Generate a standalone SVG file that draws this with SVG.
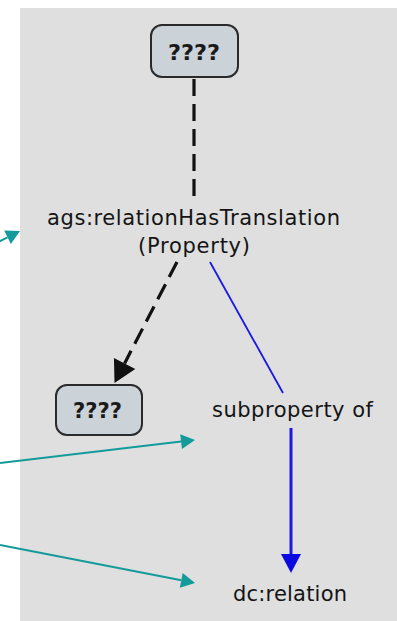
<svg xmlns="http://www.w3.org/2000/svg" width="397" height="621" viewBox="0 0 397 621">
<style>
.lbl{font-family:"DejaVu Sans","Liberation Sans",sans-serif;font-size:21px;fill:#141414;}
.q{font-family:"DejaVu Sans","Liberation Sans",sans-serif;font-size:21px;font-weight:bold;fill:#1a1a1a;}
.box{fill:#cbd3d8;stroke:#2a2a2a;stroke-width:2;}
.dash{fill:none;stroke:#111;stroke-width:3.2;stroke-dasharray:17 8;}
.blue{fill:none;stroke:#1a1ae0;}
.teal{fill:none;stroke:#149a9a;stroke-width:2;}
</style>
<defs>
<marker id="mBlack" markerUnits="userSpaceOnUse" markerWidth="24" markerHeight="26" refX="0" refY="12" orient="auto" overflow="visible">
<path d="M0,0 L22,12 L0,24 z" fill="#111"/>
</marker>
<marker id="mBlue" markerUnits="userSpaceOnUse" markerWidth="22" markerHeight="22" refX="0" refY="10" orient="auto" overflow="visible">
<path d="M0,0 L19,10 L0,20 z" fill="#0a0ae0"/>
</marker>
<marker id="mTeal" markerUnits="userSpaceOnUse" markerWidth="16" markerHeight="16" refX="0" refY="7.5" orient="auto" overflow="visible">
<path d="M0,0 L14,7.5 L0,15 z" fill="#149a9a"/>
</marker>
</defs>
<rect x="20" y="8" width="377" height="613" fill="#dfdfdf"/>
<g id="connectors">
<line class="dash" x1="194" y1="79" x2="194" y2="198"/>
<line class="dash" x1="177" y1="262" x2="124.6" y2="363.4" marker-end="url(#mBlack)"/>
<line class="blue" stroke-width="1.8" x1="210" y1="262" x2="283" y2="393"/>
<line class="blue" stroke-width="3" x1="291" y1="428" x2="291" y2="554" marker-end="url(#mBlue)"/>
<line class="teal" x1="-10" y1="246" x2="7.5" y2="237.3" marker-end="url(#mTeal)"/>
<line class="teal" x1="0" y1="463" x2="181.1" y2="441.6" marker-end="url(#mTeal)"/>
<line class="teal" x1="0" y1="545" x2="181.3" y2="580.3" marker-end="url(#mTeal)"/>
</g>
<g id="node-top">
<rect class="box" x="151" y="25" width="87" height="52" rx="11"/>
<text class="q" x="194" y="60" text-anchor="middle" textLength="52" lengthAdjust="spacingAndGlyphs">????</text>
</g>
<g id="node-property">
<text class="lbl" x="193.5" y="225" text-anchor="middle" textLength="293" lengthAdjust="spacing">ags:relationHasTranslation</text>
<text class="lbl" x="194" y="253" text-anchor="middle" textLength="112" lengthAdjust="spacing">(Property)</text>
</g>
<g id="node-bottom-left">
<rect class="box" x="56" y="385" width="86" height="50" rx="11"/>
<text class="q" x="97.5" y="418" text-anchor="middle" textLength="49" lengthAdjust="spacingAndGlyphs">????</text>
</g>
<g id="label-subproperty">
<text class="lbl" x="292.5" y="417" text-anchor="middle" textLength="161" lengthAdjust="spacing">subproperty of</text>
</g>
<g id="node-dc-relation">
<text class="lbl" x="290" y="601" text-anchor="middle" textLength="114" lengthAdjust="spacing">dc:relation</text>
</g>
</svg>
